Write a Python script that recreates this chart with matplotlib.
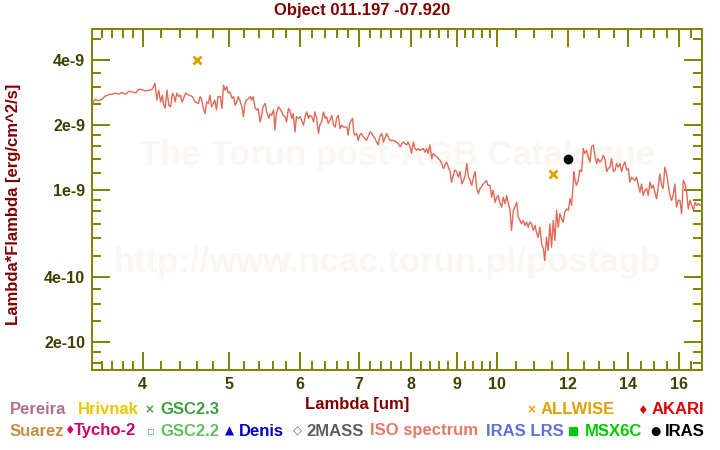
import numpy as np
import matplotlib
matplotlib.use("Agg")
import matplotlib.pyplot as plt
from matplotlib.ticker import FixedLocator, NullFormatter

plt.rcParams["font.family"] = ["Liberation Sans", "DejaVu Sans"]
plt.rcParams["font.weight"] = "bold"

# ISO spectrum: wavelength [um], lambda*F_lambda [1e-9 erg/cm^2/s]
iso_wave = [
    3.51, 3.54, 3.57, 3.60, 3.63, 3.67, 3.70, 3.73, 3.76, 3.79, 3.83, 3.86, 3.89, 3.93,
    3.96, 3.99, 4.03, 4.07, 4.10, 4.13, 4.15, 4.17, 4.19, 4.21, 4.22, 4.24, 4.26, 4.28,
    4.30, 4.32, 4.34, 4.35, 4.37, 4.39, 4.41, 4.43, 4.47, 4.51, 4.55, 4.58, 4.62, 4.64,
    4.66, 4.68, 4.70, 4.72, 4.74, 4.76, 4.78, 4.82, 4.84, 4.86,
    4.89, 4.91, 4.93, 4.95, 4.97, 4.99, 5.01, 5.04, 5.06, 5.08, 5.10, 5.12, 5.14, 5.17,
    5.19, 5.21, 5.23, 5.26, 5.28, 5.30, 5.32, 5.35, 5.37, 5.39, 5.42, 5.44, 5.46, 5.49,
    5.51, 5.54, 5.56, 5.58, 5.61, 5.63, 5.65, 5.68, 5.70, 5.73, 5.75, 5.78, 5.80, 5.83,
    5.85, 5.88, 5.90, 5.93, 5.95, 5.98, 6.01, 6.03, 6.06, 6.09, 6.11, 6.14, 6.16, 6.19,
    6.22, 6.24, 6.27, 6.30, 6.32, 6.35, 6.38, 6.41, 6.43, 6.46, 6.49, 6.52, 6.55, 6.58,
    6.60, 6.63, 6.66, 6.69, 6.72,
    6.78, 6.80, 6.83, 6.86, 6.88, 6.90, 6.92, 6.95, 6.98, 7.01, 7.04, 7.07, 7.10, 7.13,
    7.16, 7.20, 7.23, 7.26, 7.29, 7.32, 7.35, 7.38, 7.42, 7.45, 7.48, 7.51, 7.54, 7.58,
    7.64, 7.71, 7.74, 7.78, 7.81, 7.84, 7.88, 7.91, 7.94, 7.98, 8.01, 8.05, 8.08, 8.12,
    8.15, 8.19, 8.26, 8.29, 8.33, 8.36, 8.40, 8.44, 8.47, 8.51, 8.55, 8.58, 8.62, 8.66,
    8.70, 8.73, 8.77, 8.81, 8.85, 8.88, 8.92, 8.96, 9.00, 9.04, 9.08, 9.12, 9.16, 9.20,
    9.24, 9.28,
    9.32, 9.36, 9.40, 9.44, 9.48, 9.52, 9.56, 9.60, 9.64, 9.68, 9.72, 9.76, 9.81, 9.85,
    9.89, 9.94, 9.98, 10.02, 10.06, 10.11, 10.15, 10.20, 10.24, 10.28, 10.33, 10.37,
    10.42, 10.46, 10.51, 10.55, 10.60, 10.64, 10.69, 10.74, 10.78, 10.83, 10.87, 10.92,
    10.97, 11.02, 11.06, 11.11, 11.16, 11.21, 11.26, 11.30, 11.35, 11.40, 11.45, 11.50,
    11.55, 11.60, 11.65, 11.70, 11.75, 11.80, 11.85, 11.90, 11.96, 12.01, 12.06,
    12.11, 12.16, 12.18, 12.21, 12.26, 12.32, 12.37, 12.43, 12.48, 12.53, 12.59, 12.64,
    12.70, 12.75, 12.81, 12.86, 12.92, 12.97, 13.03, 13.09, 13.14, 13.20, 13.26, 13.31,
    13.37, 13.43, 13.49, 13.55, 13.60, 13.66, 13.72, 13.78, 13.84, 13.90, 13.96, 14.02,
    14.08, 14.14, 14.20, 14.26, 14.32, 14.39, 14.45, 14.51, 14.57, 14.64, 14.70, 14.76,
    14.83, 14.89, 14.95, 15.02, 15.08, 15.15, 15.21, 15.28, 15.34, 15.41, 15.48, 15.54,
    15.61, 15.68, 15.74, 15.81, 15.88, 15.95, 16.02, 16.09, 16.16, 16.23, 16.30, 16.37,
    16.44, 16.52, 16.59, 16.66, 16.73, 16.80, 16.87, 16.95,
]
iso_flux = [
    2.52, 2.63, 2.59, 2.63, 2.72, 2.77, 2.78, 2.81, 2.78, 2.83, 2.78, 2.87, 2.85, 2.82,
    2.93, 2.92, 2.88, 2.90, 2.93, 3.12, 2.61, 2.90, 2.56, 2.75, 2.52, 2.39, 2.90, 2.47,
    2.43, 2.81, 2.71, 2.56, 2.81, 2.71, 2.75, 2.56, 2.81, 2.75, 2.71, 2.56, 2.52, 2.71,
    2.61, 2.39, 2.26, 2.56, 2.52, 2.75, 2.43, 2.61, 2.35, 2.71,
    2.71, 2.39, 3.06, 2.90, 3.01, 2.81, 2.85, 2.66, 2.71, 2.47, 2.56, 2.71, 2.61, 2.43,
    2.19, 2.52, 2.61, 2.66, 2.71, 2.61, 2.71, 2.39, 2.35, 2.39, 2.07, 2.22, 2.43, 2.52,
    2.30, 2.15, 2.26, 2.22, 2.35, 1.90, 2.26, 2.43, 2.39, 2.30, 2.22, 2.19, 2.07, 2.39,
    2.35, 2.15, 2.26, 1.86, 2.19, 2.15, 2.19, 2.11, 2.00, 2.22, 2.30, 2.15, 2.22, 2.19,
    2.07, 2.30, 2.15, 1.83, 2.00, 2.07, 2.30, 2.15, 2.19, 2.04, 2.11, 2.22, 2.00, 1.96,
    2.15, 2.22, 1.93, 2.00, 1.96,
    1.96, 1.80, 2.04, 2.11, 2.15, 1.86, 1.80, 1.83, 1.70, 1.80, 1.83, 1.77, 1.74, 1.70,
    1.77, 1.86, 1.83, 1.77, 1.74, 1.67, 1.62, 1.77, 1.83, 1.67, 1.74, 1.83, 1.77, 1.70,
    1.70, 1.67, 1.64, 1.59, 1.64, 1.67, 1.64, 1.62, 1.67, 1.59, 1.48, 1.67, 1.56, 1.53,
    1.56, 1.53, 1.56, 1.50, 1.56, 1.48, 1.62, 1.40, 1.48, 1.45, 1.43, 1.40, 1.38, 1.33,
    1.26, 1.305, 1.35, 1.28, 1.22, 1.09, 1.17, 1.24, 1.22, 1.15, 1.22, 1.07, 1.11, 1.17,
    1.33, 1.15,
    1.11, 1.055, 1.15, 1.22, 1.02, 0.965, 1.02, 1.04, 1.07, 1.09, 1.11, 1.055, 1.055, 0.93,
    1.00, 0.88, 0.93, 0.948, 0.88, 0.837, 0.93, 0.868, 0.948, 0.88, 0.808, 0.653,
    0.808, 0.837, 0.88, 0.752, 0.726, 0.70, 0.726, 0.689, 0.714, 0.676, 0.714, 0.70,
    0.653, 0.689, 0.64, 0.607, 0.676, 0.566, 0.537, 0.474, 0.607, 0.527, 0.70, 0.546,
    0.726, 0.587, 0.808, 0.676, 0.78, 0.74, 0.714, 0.795, 0.82, 0.808, 0.915,
    0.852, 1.07, 1.22, 1.13, 1.055, 1.11, 1.24, 1.22, 1.56, 1.48, 1.53, 1.43,
    1.35, 1.59, 1.62, 1.45, 1.33, 1.40, 1.35, 1.38, 1.45, 1.40, 1.22, 1.26,
    1.28, 1.40, 1.22, 1.24, 1.33, 1.28, 1.33, 1.22, 1.305, 1.35, 1.24, 1.26,
    1.09, 1.15, 1.13, 1.11, 1.15, 1.055, 0.98, 1.07, 0.948, 1.00, 1.02, 0.948,
    1.09, 1.02, 1.055, 0.98, 0.915, 1.04, 1.19, 1.055, 1.02, 1.28, 1.19, 1.07,
    0.948, 0.899, 0.948, 1.07, 0.837, 0.899, 0.899, 0.78, 1.11, 1.07, 0.98, 0.82,
    0.899, 0.852, 0.808, 0.88, 0.852, 0.868, 0.852, 0.86,
]

# photometry
allwise_wave = [4.60, 11.55]
allwise_flux = [4.0e-9, 1.19e-9]
iras_wave = [12.0]
iras_flux = [1.39e-9]

xtick_vals = [4, 5, 6, 7, 8, 9, 10, 12, 14, 16]
ytick_vals = [2e-10, 4e-10, 1e-9, 2e-9, 4e-9]
ytick_labels = ["2e-10", "4e-10", "1e-9", "2e-9", "4e-9"]

# legend rows (label, colour, symbol)
legend_row1 = [("Pereira", "#b07090", ""), ("Hrivnak", "#e8c800", ""),
               ("GSC2.3", "#40a040", "\u00d7")]
legend_row1_right = [("ALLWISE", "#e0a000", "\u00d7"), ("AKARI", "#e00000", "\u2666")]
legend_row2 = [("Suarez", "#c09040", ""), ("Tycho-2", "#d0006a", "\u2666"),
               ("GSC2.2", "#60c060", "\u25ab"), ("Denis", "#0000c8", "\u25b2"),
               ("2MASS", "#606060", "\u25c7"), ("ISO spectrum", "#e87868", ""),
               ("IRAS LRS", "#6070d8", ""), ("MSX6C", "#00c800", "\u25a0"),
               ("IRAS", "#000000", "\u25cf")]

OLIVE = "#808000"
LABEL_DARK = "#404000"
DARK_RED = "#800000"

W, H = 720, 450
fig = plt.figure(figsize=(7.2, 4.5), dpi=100)
ax = fig.add_axes([92 / W, 1 - 370 / H, 610 / W, 341 / H])
ax.set_xscale("log")
ax.set_yscale("log")

# faint watermark
ax.text(0.5, 0.63, "The Torun post-AGB Catalogue", transform=ax.transAxes,
        ha="center", va="center", fontsize=25, color="#faf7f3", zorder=0)
ax.text(0.485, 0.315, "http://www.ncac.torun.pl/postagb", transform=ax.transAxes,
        ha="center", va="center", fontsize=25, color="#faf7f3", zorder=0)

ax.plot(iso_wave, np.array(iso_flux) * 1e-9, color="#e06a55", lw=1.0, zorder=2)
ax.plot(allwise_wave, allwise_flux, ls="none", marker="x", ms=6, mew=2,
        color="#e0a000", zorder=3)
ax.plot(iras_wave, iras_flux, ls="none", marker="o", ms=6, color="black", zorder=3)

ax.set_xlim(3.51, 16.96)
ax.set_ylim(1.48e-10, 5.56e-9)

xminor = [v for v in np.concatenate([np.arange(3.6, 4.0, 0.1), np.arange(4.2, 10.0, 0.2),
                                     np.arange(10.5, 17.0, 0.5)])
          if abs(v - round(v)) > 1e-6 or round(v) not in xtick_vals]
yminor = [1.6e-10, 1.8e-10, 2.5e-10, 3e-10, 3.5e-10, 5e-10, 6e-10, 7e-10, 8e-10, 9e-10,
          1.2e-9, 1.4e-9, 1.6e-9, 1.8e-9, 2.5e-9, 3e-9, 3.5e-9, 5e-9]

ax.xaxis.set_major_locator(FixedLocator(xtick_vals))
ax.xaxis.set_minor_locator(FixedLocator(xminor))
ax.xaxis.set_minor_formatter(NullFormatter())
ax.set_xticklabels([str(v) for v in xtick_vals])
ax.yaxis.set_major_locator(FixedLocator(ytick_vals))
ax.yaxis.set_minor_locator(FixedLocator(yminor))
ax.yaxis.set_minor_formatter(NullFormatter())
ax.set_yticklabels(ytick_labels)

ax.tick_params(which="both", direction="in", top=True, right=True, color=OLIVE, width=1.4)
ax.tick_params(which="major", length=13, labelsize=11.5, labelcolor=LABEL_DARK, pad=5)
ax.tick_params(which="minor", length=6.5)
for lab in ax.get_xticklabels() + ax.get_yticklabels():
    lab.set_fontweight("bold")
for sp in ax.spines.values():
    sp.set_color(OLIVE)
    sp.set_linewidth(1.4)

fig.text(362 / W, 1 - 11 / H, "Object 011.197 -07.920", ha="center", va="center",
         fontsize=12, color=DARK_RED)
fig.text(357 / W, 1 - 405 / H, "Lambda [um]", ha="center", va="center",
         fontsize=12, color=DARK_RED)
fig.text(14 / W, 1 - 204 / H, "Lambda*Flambda [erg/cm^2/s]", ha="center", va="center",
         rotation=90, fontsize=12, color=DARK_RED)


def legend_entry(x, y, label, color, symbol, gap=10):
    # symbol centred at x, label text starts gap px to the right
    if symbol:
        fig.text(x / W, 1 - y / H, symbol, ha="center", va="center",
                 fontsize=8.5, color=color, family="DejaVu Sans")
        x += gap
    fig.text(x / W, 1 - y / H, label, ha="left", va="center", fontsize=12, color=color)


row1_x = [10, 78, 149]
row1r_x = [531, 642]
row2_x = [10, 69, 151, 229, 297, 370, 486, 574, 655]
row2_gap = [10, 5, 9, 10, 9, 10, 10, 11, 10]
for (lab, c, s), x in zip(legend_row1, row1_x):
    legend_entry(x, 410, lab, c, s, gap=11)
for (lab, c, s), x in zip(legend_row1_right, row1r_x):
    legend_entry(x, 410, lab, c, s, gap=10)
for (lab, c, s), x, g in zip(legend_row2, row2_x, row2_gap):
    legend_entry(x, 431, lab, c, s, gap=g)

fig.savefig("out.png", dpi=100)
